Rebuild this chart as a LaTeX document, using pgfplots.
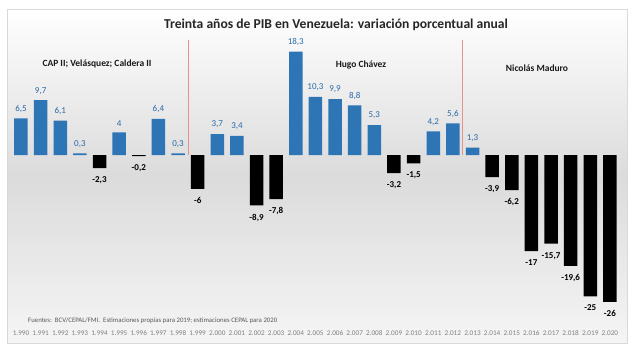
\documentclass[border=0pt]{standalone}
\usepackage{pgfplots}
\pgfplotsset{compat=1.18}
\usepackage{fontspec}
\setmainfont{Carlito}
\usetikzlibrary{calc}
\definecolor{barblue}{HTML}{2E75B6}
\definecolor{lblblue}{HTML}{2A69A8}
\definecolor{redline}{HTML}{E8908A}
\definecolor{framegray}{HTML}{D9D9D9}
\begin{document}
\begin{tikzpicture}
\begin{axis}[
  scale only axis,
  width=620pt, height=334pt,
  xmin=1989.287, xmax=2020.87,
  ymin=-33.27, ymax=25.84,
  axis background/.style={top color=white, bottom color=white!96!black, middle color=black!14},
  axis line style={draw=framegray, line width=0.6pt},
  ytick=\empty,
  xtick={1990,...,2020},
  major tick length=0pt,
  /pgf/number format/assume math mode=true,
  xticklabel style={anchor=center, yshift=10pt, font=\fontsize{7.2}{8}\selectfont, text=black!50,
    /pgf/number format/.cd, 1000 sep={.}},
  ybar, bar width=13.5pt,
  clip=false,
]
\addplot[fill=barblue, draw=none, bar shift=0pt,
  nodes near coords,
  every node near coord/.append style={font=\fontsize{9}{10}\selectfont, text=lblblue, yshift=2.5pt,
    /pgf/number format/.cd, use comma, assume math mode=true}]
coordinates {
(1990,6.5) (1991,9.7) (1992,6.1) (1993,0.3) (1995,4) (1997,6.4) (1998,0.3)
(2000,3.7) (2001,3.4) (2004,18.3) (2005,10.3) (2006,9.9) (2007,8.8) (2008,5.3)
(2011,4.2) (2012,5.6) (2013,1.3)
};
\addplot[fill=black, draw=none, bar shift=0pt,
  nodes near coords,
  every node near coord/.append style={font=\fontsize{9}{10}\selectfont\bfseries, text=black, yshift=-5pt,
    /pgf/number format/.cd, use comma, assume math mode=true}]
coordinates {
(1994,-2.3) (1996,-0.2) (1999,-6) (2002,-8.9) (2003,-7.8) (2009,-3.2) (2010,-1.5)
(2014,-3.9) (2015,-6.2) (2016,-17) (2017,-15.7) (2018,-19.6) (2019,-25) (2020,-26)
};
\draw[redline, line width=0.5pt] (axis cs:1998.5,0) -- (axis cs:1998.5,20.3);
\draw[redline, line width=0.5pt] (axis cs:2012.5,0) -- (axis cs:2012.5,20.3);
\end{axis}
\coordinate (O) at ($(current axis.south west)+(-7pt,-17pt)$);
\begin{scope}[shift={(O)}, x=1pt, y=1pt]
\node[font=\fontsize{13.6}{15}\selectfont\bfseries, text=black!85] at (336,335) {Treinta años de PIB en Venezuela: variación porcentual anual};
\node[font=\fontsize{9.5}{11}\selectfont\bfseries, text=black!90] at (97,296) {CAP II; Velásquez; Caldera II};
\node[font=\fontsize{9.5}{11}\selectfont\bfseries, text=black!90] at (361,295) {Hugo Chávez};
\node[font=\fontsize{9.5}{11}\selectfont\bfseries, text=black!90] at (537,292) {Nicolás Maduro};
\node[font=\fontsize{6.8}{8}\selectfont, text=black!65, anchor=west, inner sep=0pt] at (28,39) {Fuentes:\ \ BCV/CEPAL/FMI.\ \ Estimaciones propias para 2019; estimaciones CEPAL para 2020};
\end{scope}
\pgfresetboundingbox
\path (O) rectangle ++(640pt,360pt);
\end{tikzpicture}
\end{document}
